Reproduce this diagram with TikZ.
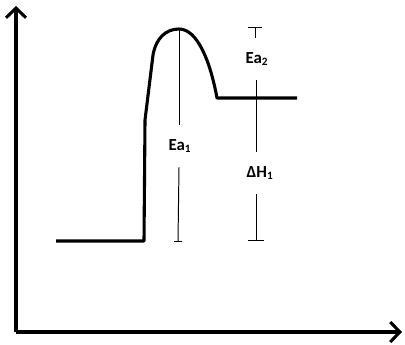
\documentclass[tikz,border=0pt]{standalone}
\usepackage{fontspec}
\setmainfont{Carlito}
\usetikzlibrary{arrows.meta}

\tikzset{
  axis/.style={line width=2.2pt,-{Straight Barb[length=2.4mm,width=5mm,line width=2.2pt]}},
  level/.style={line width=2.2pt},
  gap/.style={line width=0.7pt},
  lbl/.style={font=\bfseries\large, inner xsep=1pt, inner ysep=10pt}
}

\begin{document}
\begin{tikzpicture}[x=0.025cm,y=-0.025cm]
\useasboundingbox (0,0) rectangle (405,344);
% axes
\coordinate (O) at (16,332);
\draw[axis] (O) -- (16,6);
\draw[axis] (O) -- (402,332);
% energy profile
\coordinate (R1) at (56,241);
\coordinate (R2) at (144,241);
\coordinate (K) at (153,55);
\coordinate (T) at (179,29);
\coordinate (P1) at (217,98);
\coordinate (P2) at (297,98);
\draw[level,line join=round] (R1) -- (R2) -- (145,120) -- (K)
  .. controls (156,38) and (166,29) .. (T)
  .. controls (197,29) and (210,60) .. (P1) -- (P2);
% Ea1
\node[lbl] (ea1) at (180,146) {Ea\textsubscript{1}};
\coordinate (ea1b) at (178,241);
\draw[gap] (T) -- (ea1.north -| T);
\draw[gap] (ea1.south -| T) -- (ea1b);
\draw[gap] ([xshift=-3]ea1b) -- ([xshift=3]ea1b);
% Ea2
\node[lbl] (ea2) at (257,59) {Ea\textsubscript{2}};
\coordinate (ea2t) at (255,27);
\draw[gap] (ea2t) -- (ea2.north -| ea2t);
\draw[gap] ([xshift=-5]ea2t) -- ([xshift=5]ea2t);
% dH1
\node[lbl] (dh1) at (260,173) {ΔH\textsubscript{1}};
\coordinate (dh1b) at (256,240);
\draw[gap] (ea2.south -| dh1b) -- (dh1.north -| dh1b);
\draw[gap] (dh1.south -| dh1b) -- (dh1b);
\draw[gap] ([xshift=-6]dh1b) -- ([xshift=6]dh1b);
\end{tikzpicture}
\end{document}
